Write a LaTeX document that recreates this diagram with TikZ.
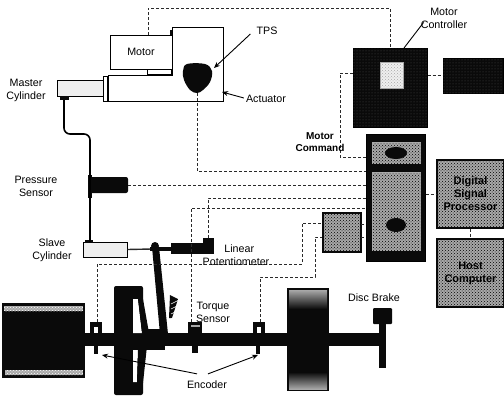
\documentclass[tikz,border=0pt]{standalone}
\usepackage{fontspec}
\setmainfont{Liberation Sans}
\usetikzlibrary{arrows.meta, patterns, positioning}

\begin{document}
\begin{tikzpicture}[
    x=1pt, y=-1pt,
    every node/.style={font=\fontsize{10.7}{13}\selectfont, inner sep=0pt, align=center},
    linebox/.style={draw=black, line width=1pt, fill=white},
    darkbox/.style={draw=black, line width=1pt, fill=c1, postaction={pattern=dots, pattern color=c5}},
    grainbox/.style={draw=c1, line width=1.4pt, fill=c3, postaction={pattern=crosshatch dots, pattern color=black}},
    namebox/.style={grainbox, text=black, font=\fontsize{11}{13}\selectfont\bfseries},
    sigline/.style={line width=0.7pt, densely dashed, draw=c2},
    leader/.style={line width=0.9pt, -{Stealth[length=6pt, width=5pt]}},
]

\definecolor{c1}{HTML}{0A0A0A}   % solid parts
\definecolor{c2}{HTML}{2A2A2A}   % signal lines
\definecolor{c3}{HTML}{A8A8A8}   % grainy panels
\definecolor{c4}{HTML}{EFEFEF}   % cylinders
\definecolor{c5}{HTML}{4A4A4A}   % speckle on the dark boxes

\useasboundingbox (0,0) rectangle (504,399);

% ---------------------------------------------------------------- motor, actuator
\node (motor) [linebox, minimum width=62pt, minimum height=34pt] at (141,52) {Motor};
\draw[line width=1pt, fill=white] (172,27) -- (223,27) -- (223,101) -- (108,101)
    -- (108,75) -- (172,75) -- cycle;
\draw[line width=0.8pt] (147,69) rectangle (171,74);
\fill[c1] (170,30) rectangle (172,35);
\fill[c1] plot[smooth cycle, tension=0.6] coordinates
    {(187,64) (205,64) (212,71) (210,82) (203,90) (197,93) (190,90) (184,80) (183,71)};

% ---------------------------------------------------------------- hydraulic line
\node (master) [draw=black, line width=0.9pt, fill=c4, minimum width=46pt, minimum height=16pt] at (80,88) {};
\draw[line width=0.8pt, fill=white] (103,76) rectangle (107,101);
\fill[c1] (60,96) rectangle (69,100);
\node (pressure) [fill=c1, rounded corners=2pt, minimum width=38pt, minimum height=16pt] at (109,185) {};
\fill[c1] (88,175) rectangle (92,198);
\node (slave) [draw=black, line width=1pt, fill=c4, minimum width=44pt, minimum height=15pt] at (105,249.5) {};
\fill[c1] (85,240) rectangle (93,243);
\draw[line width=1.6pt, rounded corners=6pt] (64,100) -- (64,134) -- (90,134) -- (90,242);

% ---------------------------------------------------------------- lever, potentiometer
\draw[line width=1.4pt, c2] (slave.east) -- (152,249);
\node (pot) [fill=c1, minimum width=43pt, minimum height=11pt] at (192.5,248.5) {};
\fill[c1] (203,238) rectangle (214,244);
\fill[c1] (150,247) rectangle (172,251);
\fill[c1] (155,246) circle (4pt);
\fill[c1] (152,247) -- (159,247) -- (168,334) -- (160,334) -- cycle;
\fill[c1] (170,295) -- (178,299) -- (172,318) -- (169,318) -- cycle;
\foreach \yy in {302,307,312,317} {
  \draw[white, line width=0.5pt] (171,\yy+2) -- (179,\yy-2);
}

% ---------------------------------------------------------------- drive shaft
\node (dyno) [fill=c1, minimum width=83pt, minimum height=75pt] at (43.5,340.5) {};
\fill[c3, postaction={pattern=crosshatch dots, pattern color=white}] (4,306) rectangle (83,311);
\fill[c3, postaction={pattern=crosshatch dots, pattern color=white}] (5,370) rectangle (83,375);
\fill[c1] (85,333) rectangle (380,346);
\fill[c1, rounded corners=2pt] (114,286) rectangle (143,395);
\fill[white] (133,299) -- (138,299) -- (142,333) -- (133,333) -- cycle;
\fill[white] (133,350) -- (138,350) -- (137,382) -- (133,382) -- cycle;
\fill[c1] (138,299) -- (143,299) -- (149,333) -- (142,333) -- cycle;
\fill[c1] (138,350) -- (147,346) -- (143,383) -- (137,383) -- cycle;
\fill[c1] (143,329) rectangle (165,350);

\node (flywheel) [fill=c1, minimum width=42pt, minimum height=103pt] at (308,339.5) {};
\shade[top color=c3, bottom color=c1] (289,290) rectangle (327,309);
\shade[top color=c1, bottom color=c3] (289,372) rectangle (327,389);

\node (brake) [fill=c1, rounded corners=1pt, minimum width=19pt, minimum height=16pt] at (382.5,316) {};
\fill[c1] (379,320) rectangle (386,368);

% sensors on the shaft
\foreach \nm/\xl/\xr in {encl/90/102, torque/188/202, encr/253/265} {
  \fill[c1] (\xl,322) rectangle (\xr,333);
  \coordinate (\nm) at (\xl+3,322);
}
\fill[white] (94,327) rectangle (98,333);
\fill[c3] (191,325) rectangle (200,327);
\fill[white] (257,327) rectangle (261,333);
\fill[c1] (94,346) rectangle (98,354);
\fill[c1] (192,346) rectangle (198,353);
\fill[c1] (256,346) rectangle (260,354);

% ---------------------------------------------------------------- electronics
\node (mc) [darkbox, minimum width=74pt, minimum height=79pt] at (390,87.5) {};
\node (mcwin) [draw=c3, fill=c4, postaction={pattern=crosshatch dots, pattern color=c3},
    minimum width=23pt, minimum height=26pt] at (391.5,75) {};
\node (amp) [darkbox, minimum width=60pt, minimum height=35pt] at (473,75.5) {};
\node (ecu) [draw=black, line width=1pt, fill=c1, minimum width=59pt, minimum height=127pt] at (395.5,197.5) {};
\node (ecutop) [grainbox, draw=c3, minimum width=47pt, minimum height=20pt] at (396.5,153) {};
\fill[c1] (396,153) ellipse (11pt and 6pt);
\node (ecubot) [grainbox, draw=c3, minimum width=47pt, minimum height=77pt] at (396.5,211.5) {};
\fill[c1] (396,225) ellipse (10pt and 7pt);
\node (amp2) [grainbox, minimum width=38pt, minimum height=39pt] at (342,232.5) {};
\node (dsp) [namebox, minimum width=67pt, minimum height=68pt] at (470.5,194) {Digital\\Signal\\Processor};
\node (host) [namebox, minimum width=67pt, minimum height=68pt] at (470.5,273) {Host\\Computer};

% ---------------------------------------------------------------- signal lines
\coordinate (motortap) at (148,35);
\coordinate (toprail) at (148,8);
\draw[sigline] (motortap) -- (toprail) -| (mc.north);
\draw[sigline] (mc.east |- amp.west) -- (amp.west);
\draw[sigline] (dsp.south) -- (host.north);
\draw[sigline] (ecu.east |- dsp.west) -- (dsp.west);

\coordinate (tpstap) at (197,93);
\coordinate (tpsrail) at (197,171);
\draw[sigline] (tpstap) -- (tpsrail) -- (ecu.west |- tpsrail);
\draw[sigline] (pressure.east) -- (ecu.west |- pressure.east);

\coordinate (pottap) at (208,238);
\coordinate (potrail) at (208,198);
\draw[sigline] (pottap) -- (potrail) -- (ecu.west |- potrail);

\coordinate (mcleft) at (353,73);
\coordinate (cmdrail) at (340,73);
\coordinate (cmdlow) at (340,157);
\draw[sigline] (mcleft) -- (cmdrail) -- (cmdlow) -- (ecu.west |- cmdlow);

\coordinate (torquerail) at (191,208);
\draw[sigline] (torque) -- (torquerail) -- (ecu.west |- torquerail);

\coordinate (encltap) at (97,322);
\coordinate (enclrail) at (97,264);
\coordinate (enclmid) at (302,264);
\coordinate (enclhigh) at (302,223);
\draw[sigline] (encltap) -- (enclrail) -- (enclmid) -- (enclhigh) -- (amp2.west |- enclhigh);

\coordinate (encrtap) at (260,322);
\coordinate (encrrail) at (260,277);
\coordinate (encrmid) at (315,277);
\coordinate (encrhigh) at (315,237);
\draw[sigline] (encrtap) -- (encrrail) -- (encrmid) -- (encrhigh) -- (amp2.west |- encrhigh);

\coordinate (ampup) at (361,224);
\coordinate (amplow) at (361,237);
\draw[sigline] (ampup) -- (ampup -| ecu.west);
\draw[sigline] (amplow) -- (amplow -| ecu.west);

% ---------------------------------------------------------------- labels
\node (tpslabel) at (267,31) {TPS};
\node (actlabel) at (266,99) {Actuator};
\node (mastlabel) at (26,90) {Master\\Cylinder};
\node (presslabel) at (36,186) {Pressure\\Sensor};
\node (slavelabel) at (52,250) {Slave\\Cylinder};
\node (linlabel) at (236,255) {\hspace*{0.6em}Linear\\Potentiometer};
\node (mclabel) at (444,18) {Motor\\Controller};
\node (cmdlabel) [font=\fontsize{10}{12}\selectfont\bfseries] at (320,142) {Motor\\Command};
\node (torquelabel) at (213,312) {Torque\\Sensor};
\node (disclabel) at (374,298) {Disc Brake};
\node (enclabel) at (207,385) {Encoder};

\coordinate (tpshead) at (214,68);
\coordinate (acthead) at (222,92);
\coordinate (encleft) at (102,355);
\coordinate (encright) at (258,355);
\coordinate (mctip) at (404,48);
\draw[leader] (tpslabel.south west) ++(-6,-1) -- (tpshead);
\draw[leader] (actlabel.west) ++(-2,-1) -- (acthead);
\draw[line width=0.9pt] (mclabel.south west) ++(3,-6) -- (mctip);
\draw[leader] (enclabel.north) ++(-10,-7) -- (encleft);
\draw[leader] (enclabel.north) ++(1,-7) -- (encright);

\end{tikzpicture}
\end{document}
